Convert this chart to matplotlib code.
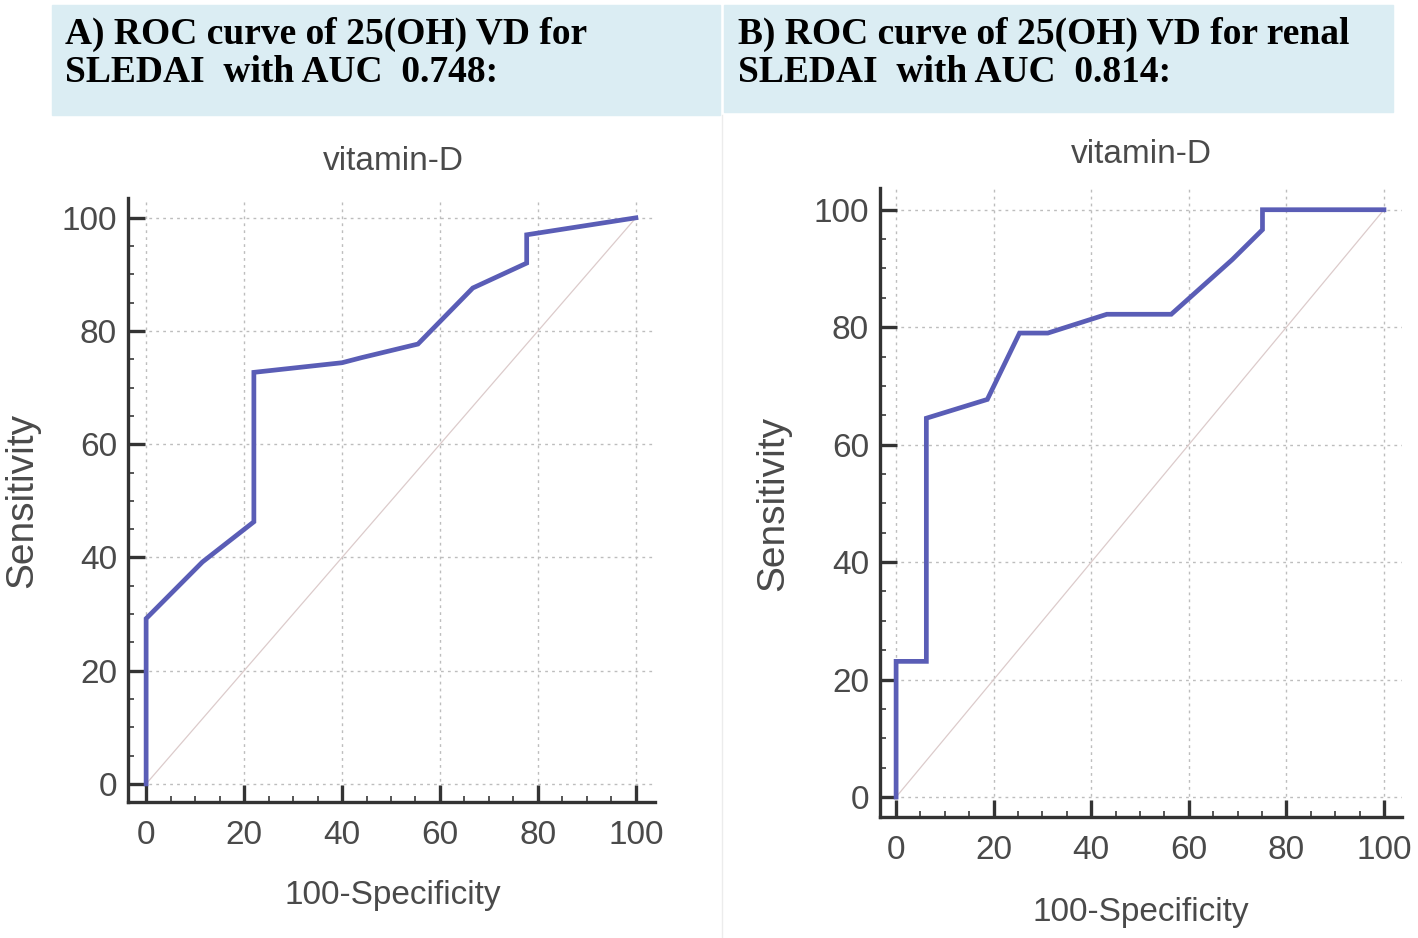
import matplotlib
matplotlib.use("Agg")
import matplotlib.pyplot as plt
from matplotlib.ticker import MultipleLocator
from matplotlib.patches import Rectangle
from matplotlib.lines import Line2D

# ROC points (100-Specificity, Sensitivity)
fpr_a = [0, 0, 11.5, 22, 22, 40, 44, 55.5, 66.7, 77.7, 77.7, 100]
sens_a = [0, 29.2, 39.2, 46.3, 72.7, 74.4, 75.3, 77.7, 87.6, 92, 97, 100]

fpr_b = [0, 0, 6.2, 6.2, 18.7, 25.3, 31.1, 43.2, 56.4, 68.9, 75.1, 75.1, 100]
sens_b = [0, 23.1, 23.1, 64.5, 67.7, 79, 79, 82.2, 82.2, 91.5, 96.6, 100, 100]

ticks = [0, 20, 40, 60, 80, 100]
headers = [["A) ROC curve of 25(OH) VD for", "SLEDAI  with AUC  0.748:"],
           ["B) ROC curve of 25(OH) VD for renal", "SLEDAI  with AUC  0.814:"]]

W, H = 1418, 938
fig = plt.figure(figsize=(W / 100, H / 100), dpi=100)

def fx(px):
    return px / W

def fy(py):
    return 1 - py / H

sans = ["Liberation Sans", "DejaVu Sans"]
txt_col = "#4a4a4a"

# header boxes
for (x0, x1, y1), lines, tx in [((52, 720, 115), headers[0], 65),
                                ((724, 1393, 112), headers[1], 738)]:
    fig.patches.append(Rectangle((fx(x0), fy(y1)), fx(x1 - x0), (y1 - 5) / H,
                                 transform=fig.transFigure, color="#dbedf3",
                                 zorder=0))
    fig.text(fx(tx), fy(44), lines[0], family="Liberation Serif",
             weight="bold", size=27, va="baseline")
    fig.text(fx(tx), fy(82), lines[1], family="Liberation Serif",
             weight="bold", size=27, va="baseline")

fig.lines.append(Line2D([fx(722), fx(722)], [0, fy(115)],
                        transform=fig.transFigure, color="#ececec", lw=1))

panels = [
    # axes box in pixels: left, right, top, bottom ; limits
    dict(box=(128, 655, 198, 802), xlim=(-3.7, 103.9), ylim=(-3.2, 103.5),
         x=fpr_a, y=sens_a, xl=(393, 895), yl=(22, 500), tl=162),
    dict(box=(880, 1402, 188, 817), xlim=(-3.3, 103.7), ylim=(-3.4, 103.7),
         x=fpr_b, y=sens_b, xl=(1141, 912), yl=(773, 503), tl=154),
]

for p in panels:
    l, r, t, b = p["box"]
    ax = fig.add_axes([fx(l), fy(b), fx(r - l), (b - t) / H])
    ax.set_xlim(*p["xlim"])
    ax.set_ylim(*p["ylim"])
    ax.plot([0, 100], [0, 100], color="#dccbcb", lw=0.9, zorder=1)
    ax.plot(p["x"], p["y"], color="#5a5db6", lw=3.4, zorder=3,
            solid_joinstyle="miter")
    for s in ["top", "right"]:
        ax.spines[s].set_visible(False)
    for s in ["left", "bottom"]:
        ax.spines[s].set_linewidth(2.4)
        ax.spines[s].set_color("#333333")
    ax.set_xticks(ticks)
    ax.set_yticks(ticks)
    ax.xaxis.set_minor_locator(MultipleLocator(5))
    ax.yaxis.set_minor_locator(MultipleLocator(5))
    ax.tick_params(which="major", direction="in", length=12, width=2.4,
                   color="#333333", labelcolor=txt_col, labelsize=24)
    ax.tick_params(which="minor", direction="in", length=4, width=1.4,
                   color="#555555")
    ax.tick_params(axis="x", which="major", pad=13)
    ax.tick_params(axis="y", which="major", pad=8)
    for lab in ax.get_xticklabels() + ax.get_yticklabels():
        lab.set_family(sans)
    ax.grid(True, which="major", color="#bdbdbd", lw=1, ls=(0, (2, 3)))
    ax.set_axisbelow(True)

    cx = (p["xl"][0] - l) / (r - l)
    ax.set_title("vitamin-D", family=sans, size=24, color=txt_col, pad=0,
                 x=cx, y=(b - p["tl"]) / (b - t), va="center")
    ax.set_xlabel("100-Specificity", family=sans, size=24, color=txt_col,
                  va="center")
    ax.set_ylabel("Sensitivity", family=sans, size=28, color=txt_col,
                  va="center")
    ax.xaxis.set_label_coords(cx, (b - p["xl"][1]) / (b - t))
    ax.yaxis.set_label_coords((p["yl"][0] - l) / (r - l),
                              (b - p["yl"][1]) / (b - t))

fig.savefig("out.png", dpi=100)
